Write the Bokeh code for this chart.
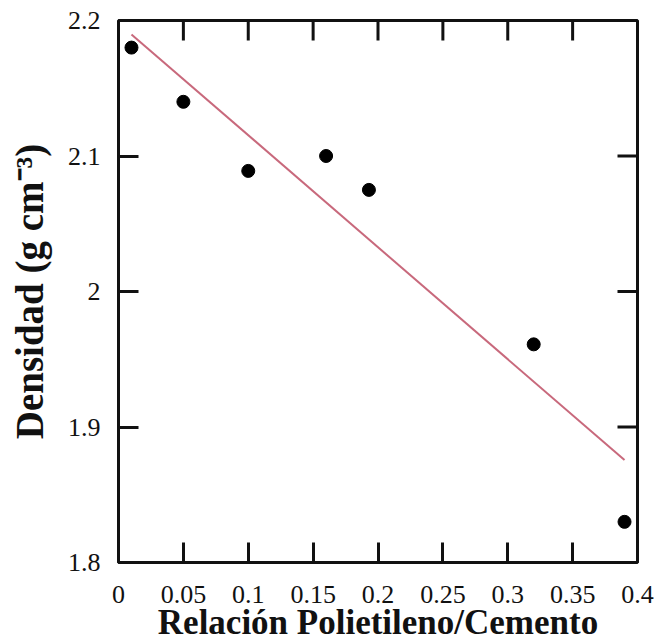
import math
import numpy as np
from bokeh.plotting import figure
from bokeh.models import Range1d, LinearAxis, FixedTicker
from bokeh.embed import file_html
from bokeh.resources import INLINE

# Polyethylene / cement ratio and measured density
ratio = [0.01, 0.05, 0.10, 0.16, 0.193, 0.32, 0.39]
density = [2.18, 2.14, 2.089, 2.10, 2.075, 1.961, 1.83]

x_ticks = [0, 0.05, 0.1, 0.15, 0.2, 0.25, 0.3, 0.35, 0.4]
x_tick_labels = ["0", "0.05", "0.1", "0.15", "0.2", "0.25", "0.3", "0.35", "0.4"]
y_ticks = [1.8, 1.9, 2.0, 2.1, 2.2]
y_tick_labels = ["1.8", "1.9", "2", "2.1", "2.2"]

x_title = "Relación Polietileno/Cemento"
y_title = "Densidad (g cm\u207b\u00b3)"

X_MIN, X_MAX = 0, 0.4
Y_MIN, Y_MAX = 1.8, 2.2

FONT = "Liberation Serif"
INK = "#111111"
TICK_LEN = 20

p = figure(width=655, height=644, output_backend="svg", toolbar_location=None,
           x_range=Range1d(X_MIN, X_MAX), y_range=Range1d(Y_MIN, Y_MAX),
           x_axis_location=None, y_axis_location=None,
           min_border_left=118, min_border_right=18,
           min_border_top=20, min_border_bottom=81)
p.background_fill_color = "white"
p.border_fill_color = "white"
p.grid.visible = False
p.outline_line_color = INK
p.outline_line_width = 3


def style_axis(ax, ticks, labels, standoff):
    ax.ticker = FixedTicker(ticks=ticks)
    ax.major_label_overrides = {t: l for t, l in zip(ticks, labels)}
    ax.axis_line_color = None
    ax.major_tick_in = TICK_LEN
    ax.major_tick_out = 0
    ax.major_tick_line_width = 3
    ax.major_tick_line_color = INK
    ax.minor_tick_line_color = None
    ax.major_label_text_font = FONT
    ax.major_label_text_font_size = "26px"
    ax.major_label_text_color = INK
    ax.major_label_standoff = standoff
    ax.axis_label_text_font = FONT
    ax.axis_label_text_font_style = "bold"
    ax.axis_label_text_color = INK


bottom = LinearAxis(axis_label=x_title)
style_axis(bottom, x_ticks, x_tick_labels, 23)
bottom.axis_label_standoff = -3
bottom.axis_label_text_font_size = "35px"
p.add_layout(bottom, "below")

left = LinearAxis(axis_label=y_title)
style_axis(left, y_ticks, y_tick_labels, 18)
left.axis_label_standoff = 14
left.axis_label_text_font_size = "39px"
p.add_layout(left, "left")

# mirrored inward ticks on the top and right edges
p.ray(x=x_ticks, y=[Y_MAX] * len(x_ticks), length=TICK_LEN, length_units="screen",
      angle=-math.pi / 2, line_color=INK, line_width=3)
p.ray(x=[X_MAX] * len(y_ticks), y=y_ticks, length=TICK_LEN, length_units="screen",
      angle=math.pi, line_color=INK, line_width=3)

# least-squares trend line over the measured range
slope, intercept = np.polyfit(ratio, density, 1)
fit_x = [min(ratio), max(ratio)]
fit_y = [slope * v + intercept for v in fit_x]
p.line(fit_x, fit_y, line_color="#c8697c", line_width=2)

p.scatter(ratio, density, size=13, color="black")

open("out.html", "w").write(file_html(p, INLINE))
